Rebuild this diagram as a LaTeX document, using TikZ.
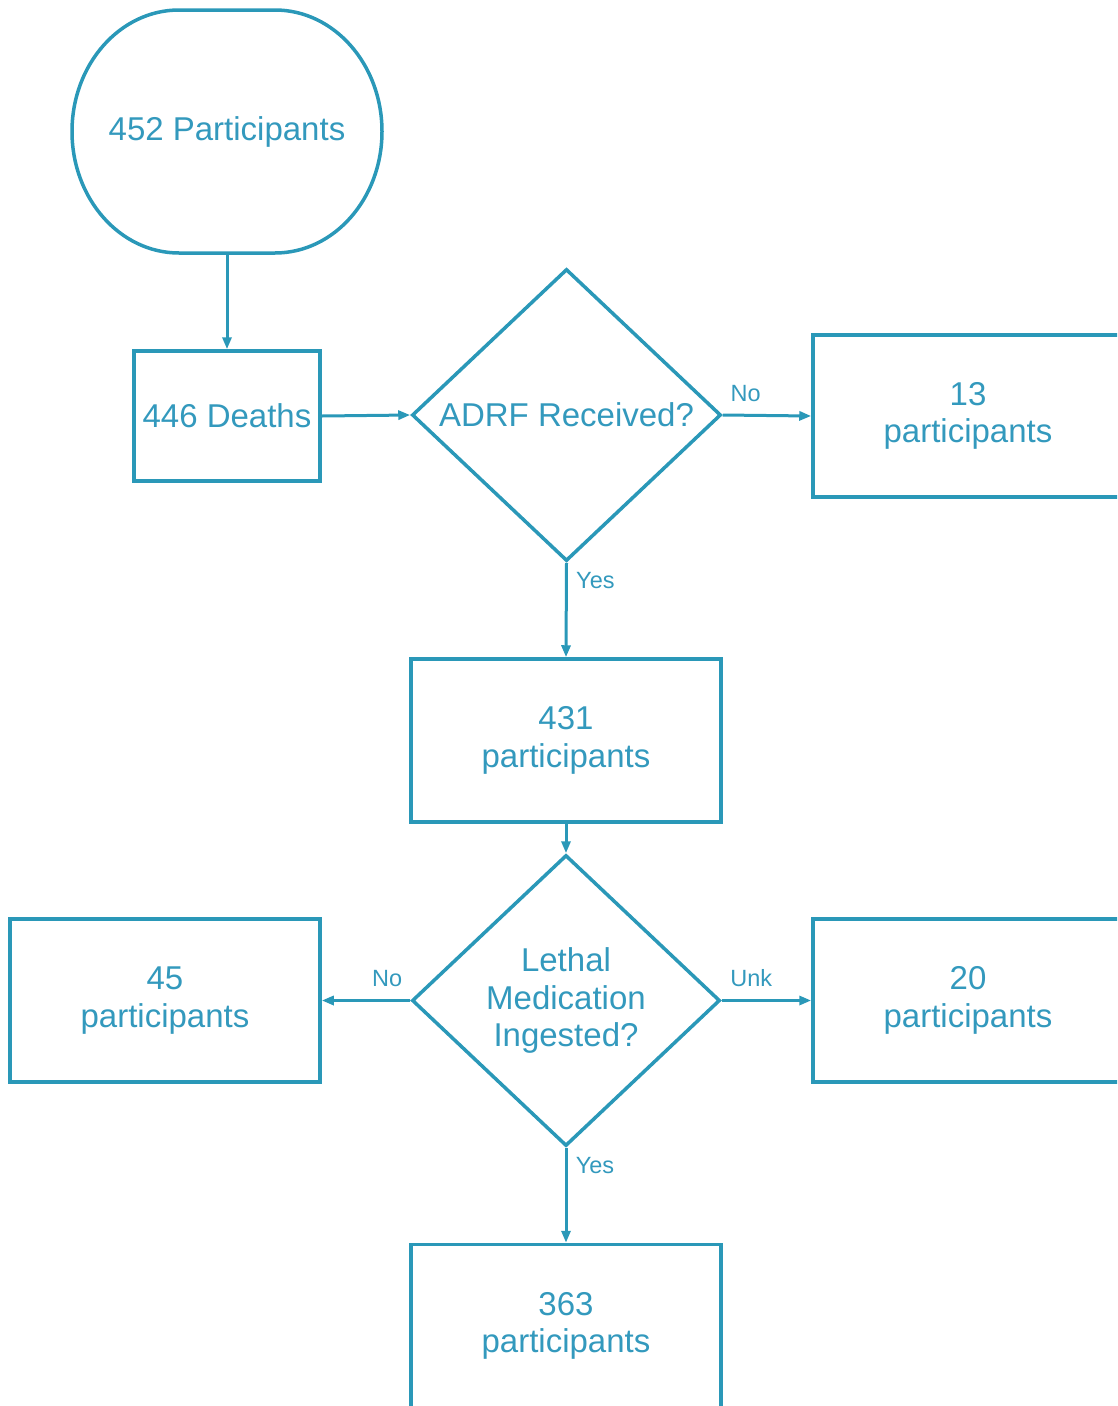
\documentclass[tikz,border=0pt]{standalone}
\usepackage{fontspec}
\setmainfont{Liberation Sans}
\usetikzlibrary{shapes.geometric,arrows.meta}
\definecolor{flow}{HTML}{2A98B8}
\definecolor{flowtext}{HTML}{3399BD}
\begin{document}
\begin{tikzpicture}[x=1pt,y=-1pt,
  every node/.style={font=\fontsize{33}{37.5}\selectfont, text=flowtext},
  box/.style={draw=flow, line width=3.5pt, rectangle, align=center, inner sep=0pt,
              minimum width=310pt, minimum height=163pt},
  decision/.style={draw=flow, line width=3.5pt, diamond, inner sep=0pt,
              minimum width=309pt, minimum height=292pt},
  arr/.style={draw=flow, line width=3pt, -{Triangle[length=12pt,width=9pt]}},
  outline/.style={draw=flow, line width=3.5pt},
  lbl/.style={font=\fontsize{23.5}{28}\selectfont, inner sep=0pt}]
\path[use as bounding box, clip] (0,0) rectangle (1117,1406);

% start terminal: rounded shape with elliptical corners
\path[outline] (179,10) -- (275,10)
  .. controls (334.1,10) and (382,64.4) .. (382,131.5)
  .. controls (382,198.6) and (334.1,253) .. (275,253)
  -- (179,253)
  .. controls (119.9,253) and (72,198.6) .. (72,131.5)
  .. controls (72,64.4) and (119.9,10) .. (179,10) -- cycle;
\node[rectangle, inner sep=0pt, outer sep=0pt, minimum width=310pt, minimum height=243pt] (start) at (227,131.5) {452 Participants};

\node[box, minimum width=186pt, minimum height=130pt] (deaths) at (227,416) {446 Deaths};
\node[decision, label={center:ADRF Received?}] (adrf) at (566.5,415) {};
\node[box, minimum height=162pt] (b13) at (968,416) {13\\participants};
\node[box] (b431) at (566,740.5) {431\\participants};
\node[decision, minimum width=308pt, minimum height=291pt,
      label={[align=center]center:Lethal\\Medication\\Ingested?}] (lethal) at (566,1000.5) {};
\node[box] (b45) at (165,1000.5) {45\\participants};
\node[box] (b20) at (968,1000.5) {20\\participants};
\node[box] (b363) at (566,1326) {363\\participants};

\draw[arr] (start.south) -- (deaths.north);
\draw[arr] (deaths.east) -- (adrf.west);
\draw[arr] (adrf.east) -- node[lbl, pos=0.26, yshift=22pt] {No} (b13.west);
\draw[arr] (adrf.south) -- node[lbl, pos=0.19, xshift=29pt] {Yes} (b431.north);
\draw[arr] (b431.south) -- (lethal.north);
\draw[arr] (lethal.west) -- node[lbl, pos=0.26, yshift=22pt] {No} (b45.east);
\draw[arr] (lethal.east) -- node[lbl, pos=0.33, yshift=22pt] {Unk} (b20.west);
\draw[arr] (lethal.south) -- node[lbl, pos=0.19, xshift=29pt] {Yes} (b363.north);
\end{tikzpicture}
\end{document}
